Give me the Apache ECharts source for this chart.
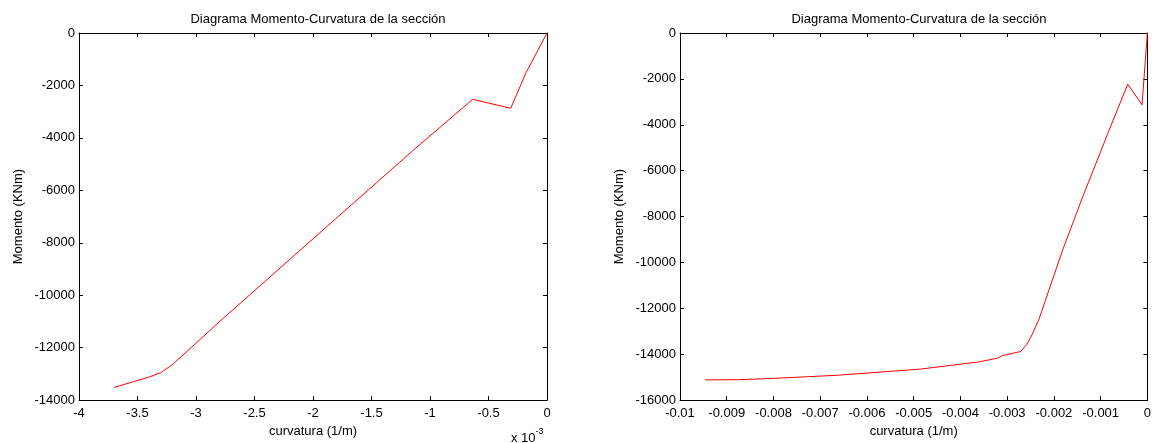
<!DOCTYPE html>
<html>
<head>
<meta charset="utf-8">
<script src="https://cdn.jsdelivr.net/npm/echarts@6/dist/echarts.min.js"></script>
<style>
  html, body { margin: 0; padding: 0; background: #fff; }
  #chart { width: 1154px; height: 443px; }
</style>
</head>
<body>
<div id="chart"></div>
<script>
// curvatura (x 10^-3 1/m) vs momento (KNm), subplot izquierdo
const curvLeft = [0, -0.18, -0.31, -0.635, -1.143, -2.0, -2.795, -3.01, -3.2, -3.3, -3.4, -3.55, -3.7];
const momLeft = [0, -1520, -2870, -2530, -4470, -7850, -10990, -11870, -12640, -12950, -13120, -13320, -13515];
// subplot derecho (1/m)
const curvRight = [-0.00946, -0.00877, -0.00807, -0.00666, -0.00486, -0.00359, -0.00322, -0.0031, -0.00271, -0.00258, -0.00247, -0.00232, -0.00181, -0.00138, -0.000955, -0.00081, -0.00042, -0.000114, 0];
const momRight = [-15120, -15110, -15060, -14920, -14650, -14330, -14180, -14060, -13880, -13570, -13160, -12480, -9440, -7120, -4940, -4190, -2230, -3130, 0];

const titleText = 'Diagrama Momento-Curvatura de la sección';
const xName = 'curvatura (1/m)';
const yName = 'Momento (KNm)';

const font = 'Liberation Sans, Arial, sans-serif';
const fs = 13;
const dom = document.getElementById('chart');
const myChart = echarts.init(dom);

function clean(v) {
    return String(parseFloat(Number(v).toFixed(6)));
}

function boxAxes(gridIndex, min, max, interval, isX) {
    // ejes de borde (arriba / derecha) sin etiquetas
    return {
        type: 'value',
        gridIndex: gridIndex,
        position: isX ? 'top' : 'right',
        min: min,
        max: max,
        interval: interval,
        axisLine: { show: true, onZero: false, lineStyle: { color: '#000', width: 1 } },
        axisTick: { show: true, inside: true, length: 4, lineStyle: { color: '#000' } },
        axisLabel: { show: false },
        splitLine: { show: false }
    };
}

function mainX(gridIndex, min, max, interval) {
    return {
        type: 'value',
        gridIndex: gridIndex,
        position: 'bottom',
        min: min,
        max: max,
        interval: interval,
        name: xName,
        nameLocation: 'middle',
        nameGap: 24,
        nameTextStyle: { color: '#000', fontSize: fs, fontFamily: font },
        axisLine: { show: true, onZero: false, lineStyle: { color: '#000', width: 1 } },
        axisTick: { show: true, inside: true, length: 4, lineStyle: { color: '#000' } },
        axisLabel: { color: '#000', fontSize: fs, fontFamily: font, margin: 7, formatter: clean },
        splitLine: { show: false }
    };
}

function mainY(gridIndex, min, max, interval) {
    return {
        type: 'value',
        gridIndex: gridIndex,
        position: 'left',
        min: min,
        max: max,
        interval: interval,
        name: yName,
        nameLocation: 'middle',
        nameGap: 54,
        nameRotate: 90,
        nameTextStyle: { color: '#000', fontSize: fs, fontFamily: font },
        axisLine: { show: true, onZero: false, lineStyle: { color: '#000', width: 1 } },
        axisTick: { show: true, inside: true, length: 4, lineStyle: { color: '#000' } },
        axisLabel: { color: '#000', fontSize: fs, fontFamily: font, margin: 4, formatter: clean },
        splitLine: { show: false }
    };
}

const option = {
    animation: false,
    backgroundColor: '#fff',
    title: [
        {
            text: titleText, left: 313, top: 8, textAlign: 'center',
            textStyle: { color: '#000', fontSize: fs, fontWeight: 'normal', fontFamily: font }
        },
        {
            text: titleText, left: 914, top: 8, textAlign: 'center',
            textStyle: { color: '#000', fontSize: fs, fontWeight: 'normal', fontFamily: font }
        }
    ],
    grid: [
        { left: 79, top: 33, width: 468, height: 368 },
        { left: 680, top: 33, width: 468, height: 368 }
    ],
    xAxis: [
        mainX(0, -4, 0, 0.5),
        boxAxes(0, -4, 0, 0.5, true),
        mainX(1, -0.01, 0, 0.001),
        boxAxes(1, -0.01, 0, 0.001, true)
    ],
    yAxis: [
        mainY(0, -14000, 0, 2000),
        boxAxes(0, -14000, 0, 2000, false),
        mainY(1, -16000, 0, 2000),
        boxAxes(1, -16000, 0, 2000, false)
    ],
    graphic: [
        {
            type: 'text',
            left: 511,
            top: 427,
            style: {
                text: '{a|x 10}{b|-3}',
                rich: {
                    a: { fontSize: fs, fontFamily: font, fill: '#000', verticalAlign: 'bottom' },
                    b: { fontSize: 9, fontFamily: font, fill: '#000', verticalAlign: 'top', padding: [0, 0, 9, 0] }
                }
            }
        }
    ],
    series: [
        {
            type: 'line',
            xAxisIndex: 0,
            yAxisIndex: 0,
            data: curvLeft.map((x, i) => [x, momLeft[i]]),
            showSymbol: false,
            lineStyle: { color: '#ff0000', width: 1 },
            itemStyle: { color: '#ff0000' }
        },
        {
            type: 'line',
            xAxisIndex: 2,
            yAxisIndex: 2,
            data: curvRight.map((x, i) => [x, momRight[i]]),
            showSymbol: false,
            lineStyle: { color: '#ff0000', width: 1 },
            itemStyle: { color: '#ff0000' }
        }
    ]
};
myChart.setOption(option);
</script>
</body>
</html>
